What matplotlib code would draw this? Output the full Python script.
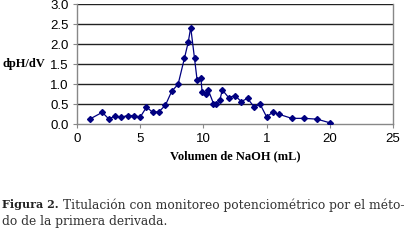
import matplotlib
matplotlib.use('Agg')
import matplotlib.pyplot as plt

# Titration data (volume in mL, first derivative)
volumen = [1, 2, 2.5, 3, 3.5, 4, 4.5, 5, 5.5, 6, 6.5, 7, 7.5, 8, 8.5, 8.8, 9.0,
           9.3, 9.5, 9.8, 9.9, 10.2, 10.4, 10.8, 11.0, 11.3, 11.5, 12, 12.5, 13,
           13.5, 14, 14.5, 15, 15.5, 16, 17, 18, 19, 20]
dph_dv = [0.13, 0.30, 0.14, 0.20, 0.18, 0.22, 0.22, 0.18, 0.43, 0.30, 0.32,
          0.48, 0.83, 1.00, 1.65, 2.05, 2.42, 1.65, 1.12, 1.17, 0.82, 0.77,
          0.85, 0.52, 0.50, 0.60, 0.86, 0.67, 0.72, 0.57, 0.65, 0.44, 0.50,
          0.19, 0.30, 0.25, 0.15, 0.15, 0.13, 0.04]

x_ticks = [0, 5, 10, 15, 20, 25]
x_tick_labels = ['0', '5', '10', '1', '20', '25']
y_ticks = [0.0, 0.5, 1.0, 1.5, 2.0, 2.5, 3.0]

W, H = 414, 241
fig = plt.figure(figsize=(W / 100, H / 100), dpi=100)
ax = fig.add_axes([0.186, 0.484, 0.763, 0.498])

# Horizontal grid lines like the spreadsheet chart
for yv in y_ticks[1:]:
    ax.axhline(yv, color='#222222', linewidth=1.0, zorder=1)

ax.plot(volumen, dph_dv, color='#000080', linewidth=0.9, marker='D',
        markersize=3.0, zorder=3)

ax.set_xlim(0, 25)
ax.set_ylim(0, 3.0)
ax.set_xticks(x_ticks)
ax.set_xticklabels(x_tick_labels)
ax.set_yticks(y_ticks)
ax.set_yticklabels([f'{v:.1f}' for v in y_ticks])

for side in ['left', 'bottom', 'right']:
    ax.spines[side].set_color('#888888')
    ax.spines[side].set_linewidth(1.0)
ax.spines['top'].set_visible(False)

ax.tick_params(axis='both', direction='out', length=3, width=0.8,
               color='#888888', labelsize=9.5, pad=3)
for lab in ax.get_xticklabels() + ax.get_yticklabels():
    lab.set_family('Liberation Sans')

ax.set_xlabel('Volumen de NaOH (mL)', family='Liberation Serif',
              fontweight='bold', fontsize=9, labelpad=4)
fig.text(3 / W, 1 - 64 / H, 'dpH/dV', family='Liberation Serif',
         fontweight='bold', fontsize=9, ha='left', va='center')

# Caption below the chart, each piece fitted to the width it has in the reference
cap_font = 'DejaVu Serif'
renderer = fig.canvas.get_renderer()


def fitted_text(x0, x1, y, s, **kw):
    t = fig.text(x0 / W, 1 - y / H, s, family=cap_font, fontsize=9,
                 va='center', **kw)
    w = t.get_window_extent(renderer).width
    t.set_fontsize(9 * (x1 - x0) / w)
    return t


fitted_text(2, 59, 205, 'Figura 2.', fontweight='bold', color='#222222')
line1 = fitted_text(63, 403, 205,
                    'Titulación con monitoreo potenciométrico por el méto-',
                    color='#333333')
fig.text(2 / W, 1 - 222 / H, 'do de la primera derivada.', family=cap_font,
         fontsize=line1.get_fontsize(), color='#333333', va='center')

fig.savefig('out.png', dpi=100)
